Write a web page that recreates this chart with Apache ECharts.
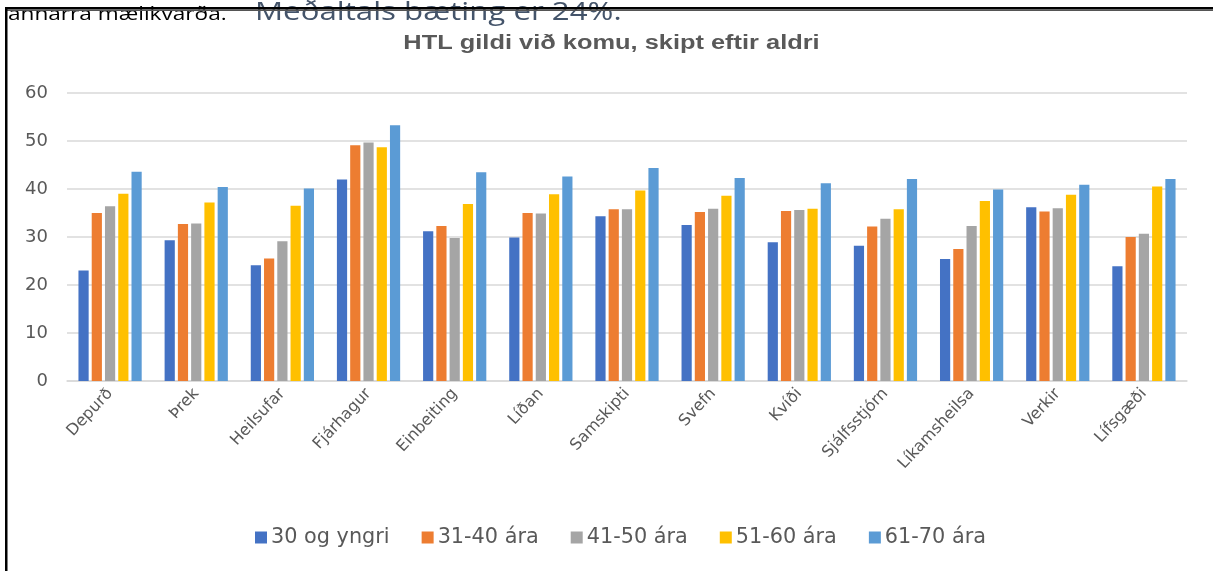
<!DOCTYPE html>
<html>
<head>
<meta charset="utf-8">
<script src="https://cdn.jsdelivr.net/npm/echarts@6/dist/echarts.min.js"></script>
<style>
  html, body { margin: 0; padding: 0; background: #fff; }
  #main { width: 1213px; height: 571px; }
</style>
</head>
<body>
<div id="main"></div>
<script>
// flokkar og gildi lesin af myndinni
const categories = ['Depurð', 'Þrek', 'Heilsufar', 'Fjárhagur', 'Einbeiting', 'Líðan', 'Samskipti',
  'Svefn', 'Kvíði', 'Sjálfsstjórn', 'Líkamsheilsa', 'Verkir', 'Lífsgæði']
const seriesNames = ['30 og yngri', '31-40 ára', '41-50 ára', '51-60 ára', '61-70 ára']
const age30 = [23.0, 29.3, 24.1, 42.0, 31.2, 29.9, 34.3, 32.5, 28.9, 28.2, 25.4, 36.2, 23.9]
const age31_40 = [35.0, 32.7, 25.5, 49.1, 32.3, 35.0, 35.8, 35.2, 35.4, 32.2, 27.5, 35.3, 30.0]
const age41_50 = [36.4, 32.8, 29.1, 49.7, 29.8, 34.9, 35.8, 35.9, 35.6, 33.8, 32.3, 36.0, 30.7]
const age51_60 = [39.0, 37.2, 36.5, 48.7, 36.9, 38.9, 39.7, 38.6, 35.9, 35.8, 37.5, 38.8, 40.5]
const age61_70 = [43.6, 40.4, 40.1, 53.3, 43.5, 42.6, 44.4, 42.3, 41.2, 42.1, 39.9, 40.9, 42.1]
const yTicks = [0, 10, 20, 30, 40, 50, 60]
const colors = ['#4472c4', '#ed7d31', '#a5a5a5', '#ffc000', '#5b9bd5']

const chartDom = document.getElementById('main')
const myChart = echarts.init(chartDom)

const allValues = [age30, age31_40, age41_50, age51_60, age61_70]

// myndin er teygð lárétt (~1.2x), því eru textar breikkaðir
const option = {
  animation: false,
  color: colors,
  textStyle: { fontFamily: 'DejaVu Sans' },
  graphic: [
    // texti úr skjalinu fyrir ofan myndina (skorinn að ofan)
    {
      type: 'text', x: 8, y: 14.5, scaleX: 1.19, z: 1,
      style: { text: 'annarra mælikvarða.', fontSize: 19, fontFamily: 'Open Sans', fill: '#000',
        textVerticalAlign: 'middle' }
    },
    {
      type: 'text', x: 255, y: 12.5, scaleX: 1.25, z: 1,
      style: { text: 'Meðaltals bæting er 24%.', fontSize: 25, fontFamily: 'Open Sans', fill: '#44546a',
        textVerticalAlign: 'middle' }
    },
    // fyrirsögn
    {
      type: 'text', x: 611.5, y: 43, scaleX: 1.27, z: 5,
      style: { text: 'HTL gildi við komu, skipt eftir aldri', fontSize: 20, fontWeight: 'bold',
        fontFamily: 'Liberation Sans', fill: '#595959', textAlign: 'center', textVerticalAlign: 'middle' }
    },
    // rammi
    { type: 'rect', shape: { x: 5, y: 7, width: 1208, height: 2.5 }, style: { fill: '#000' }, z: 10 },
    { type: 'rect', shape: { x: 5, y: 9.5, width: 1208, height: 1.5 }, style: { fill: '#555' }, z: 10 },
    { type: 'rect', shape: { x: 5, y: 7, width: 2.5, height: 564 }, style: { fill: '#000' }, z: 10 }
  ],
  legend: {
    bottom: 18,
    left: 250,
    itemWidth: 12,
    itemHeight: 12,
    itemGap: 32,
    icon: 'rect',
    textStyle: { fontSize: 20.8, color: '#595959', padding: [0, 0, 0, -1] },
    data: seriesNames
  },
  grid: { left: 67, right: 26, top: 93, bottom: 190 },
  xAxis: {
    type: 'category',
    data: categories,
    axisLine: { lineStyle: { color: '#d9d9d9', width: 1.5 } },
    axisTick: { show: false },
    axisLabel: { rotate: 47, fontSize: 16, color: '#595959', margin: 10, interval: 0 }
  },
  yAxis: {
    type: 'value',
    min: yTicks[0],
    max: yTicks[yTicks.length - 1],
    interval: 10,
    axisLine: { show: false },
    axisTick: { show: false },
    axisLabel: { fontSize: 18, color: '#595959', margin: 19 },
    splitLine: { lineStyle: { color: '#d9d9d9', width: 1.5 } }
  },
  series: seriesNames.map((name, i) => ({
    name: name,
    type: 'bar',
    data: allValues[i],
    barWidth: 10.2,
    barGap: '30%',
    itemStyle: { color: colors[i] }
  }))
}
option && myChart.setOption(option)
</script>
</body>
</html>
